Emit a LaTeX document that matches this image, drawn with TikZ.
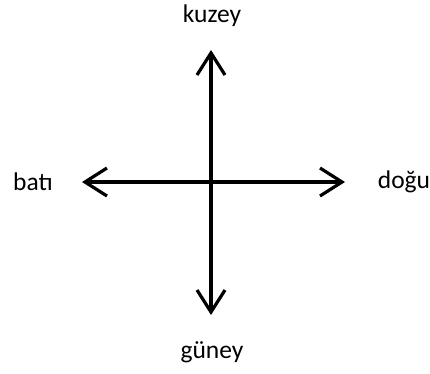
\documentclass[tikz,border=0pt]{standalone}
\usepackage{fontspec}
\setmainfont{Carlito}
\usetikzlibrary{arrows.meta}
\tikzset{yon/.style={line width=3.2pt,-{Straight Barb[length=22pt,width=28pt,line width=3.2pt]}},
  lbl/.style={font=\fontsize{25.5}{30}\selectfont,inner sep=0pt}}
\begin{document}
\begin{tikzpicture}[x=1pt,y=1pt]
  \useasboundingbox (-211,-191) rectangle (219,182);
  \coordinate (O) at (0,0); \coordinate (kt) at (0,132); \coordinate (gt) at (0,-133); \coordinate (bt) at (-129,0); \coordinate (dt) at (134,0);
  \draw[yon] (O)--(kt); \draw[yon] (O)--(gt); \draw[yon] (O)--(bt); \draw[yon] (O)--(dt);
  \node[lbl] (kuzey) at (1,166) {kuzey}; \node[lbl] (guney) at (1,-170) {güney}; \node[lbl] (bati) at (-178,0) {batı}; \node[lbl] (dogu) at (193,0) {doğu};
\end{tikzpicture}
\end{document}
